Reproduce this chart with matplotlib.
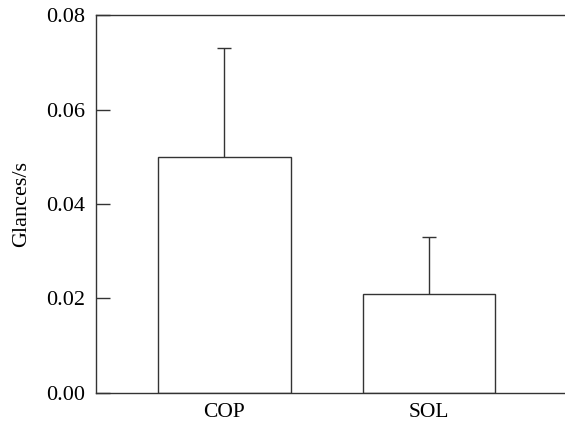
import matplotlib.pyplot as plt

# Data
categories = ['COP', 'SOL']
means = [0.050, 0.021]
upper_err = [0.023, 0.012]

plt.rcParams['font.family'] = ['Liberation Serif', 'DejaVu Serif']

fig = plt.figure(figsize=(5.65, 4.25), dpi=100)
ax = fig.add_axes([0.170, 0.0753, 0.830, 0.8894])

x = list(range(len(categories)))
tops = [m + e for m, e in zip(means, upper_err)]
line_c = '#333333'
ax.bar(x, means, width=0.65, color='white', edgecolor=line_c, linewidth=1.0)
# upper-only error bars: stem + cap at top
ax.vlines(x, means, tops, color=line_c, linewidth=1.0)
ax.plot(x, tops, linestyle='none', marker='_', markersize=10,
        markeredgewidth=1.0, color=line_c)

ax.set_xlim(-0.628, 1.665)
ax.set_ylim(0, 0.08)
ax.set_yticks([0, 0.02, 0.04, 0.06, 0.08])
ax.set_yticklabels(['0.00', '0.02', '0.04', '0.06', '0.08'])
ax.set_xticks(x)
ax.set_xticklabels(categories)
ax.tick_params(axis='y', direction='in', length=10, width=1.0, color=line_c,
               labelsize=16, pad=8)
ax.tick_params(axis='x', length=0, labelsize=15.5, pad=7)
ax.set_ylabel('Glances/s', fontsize=16, labelpad=11)

ax.spines['right'].set_visible(False)
for s in ['left', 'top', 'bottom']:
    ax.spines[s].set_color(line_c)
    ax.spines[s].set_linewidth(1.0)

plt.savefig('out.png', dpi=100)
